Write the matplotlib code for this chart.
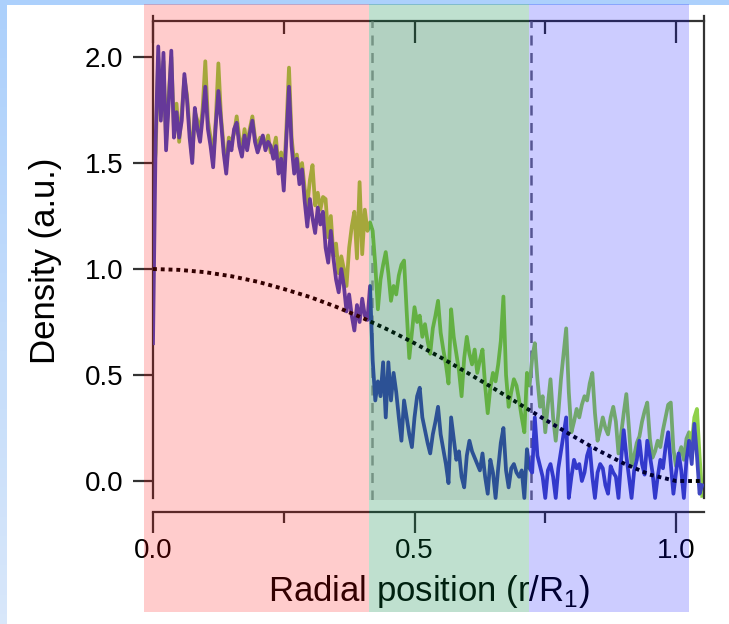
import numpy as np
import matplotlib.pyplot as plt
from matplotlib.patches import Rectangle
from matplotlib.ticker import MultipleLocator, FormatStrFormatter

plt.rcParams['font.family'] = ['Liberation Sans', 'DejaVu Sans']
plt.rcParams['mathtext.fontset'] = 'custom'
plt.rcParams['mathtext.rm'] = 'Liberation Sans'

# radial grid shared by both density profiles (r/R1)
radius = np.round(np.arange(211) * 0.005, 3)

density_blue = [
    0.65, 1.60, 2.05, 1.70, 2.02, 1.56, 1.78, 2.03, 1.62, 1.74,
    1.62, 1.70, 1.92, 1.80, 1.62, 1.50, 1.76, 1.66, 1.60, 1.72,
    1.86, 1.66, 1.58, 1.48, 1.68, 1.84, 1.70, 1.55, 1.45, 1.60,
    1.56, 1.66, 1.69, 1.58, 1.53, 1.63, 1.56, 1.64, 1.70, 1.60,
    1.55, 1.59, 1.63, 1.56, 1.60, 1.58, 1.52, 1.58, 1.45, 1.52,
    1.37, 1.62, 1.86, 1.58, 1.45, 1.52, 1.40, 1.47, 1.32, 1.20,
    1.33, 1.24, 1.17, 1.29, 1.21, 1.27, 1.10, 1.03, 1.18, 1.05,
    0.95, 0.89, 1.00, 0.92, 0.80, 0.88, 0.78, 0.71, 0.83, 0.75,
    0.86, 0.78, 0.76, 0.92, 0.57, 0.38, 0.47, 0.40, 0.56, 0.30,
    0.56, 0.38, 0.51, 0.42, 0.30, 0.19, 0.38, 0.30, 0.22, 0.16,
    0.30, 0.40, 0.44, 0.30, 0.24, 0.18, 0.13, 0.22, 0.28, 0.35,
    0.22, 0.15, 0.08, -0.01, 0.30, 0.20, 0.10, 0.14, 0.02, -0.03,
    0.12, 0.19, 0.14, 0.11, 0.08, 0.05, 0.13, 0.02, -0.06, 0.10,
    0.04, -0.08, 0.06, 0.18, 0.25, 0.05, -0.03, 0.06, 0.08, 0.04,
    0.02, 0.05, -0.08, 0.15, 0.06, 0.04, 0.30, 0.12, 0.07, 0.02,
    -0.08, 0.05, 0.08, 0.02, -0.08, 0.06, 0.14, 0.22, 0.30, -0.08,
    0.02, 0.10, 0.06, 0.08, 0.00, 0.04, 0.12, 0.16, 0.02, -0.08,
    0.04, 0.08, 0.06, -0.02, -0.06, 0.07, 0.04, 0.02, -0.08, 0.10,
    0.24, 0.12, 0.02, -0.08, 0.05, 0.10, 0.19, 0.08, 0.03, 0.19,
    0.12, 0.04, -0.08, 0.02, 0.10, 0.06, 0.16, 0.23, 0.08, -0.06,
    0.04, 0.13, 0.05, -0.08, 0.10, 0.19, 0.08, 0.27, 0.12, -0.06,
    -0.02,
]

density_green = [
    1.40, 1.55, 2.00, 1.72, 1.98, 1.60, 1.82, 2.00, 1.66, 1.78,
    1.60, 1.74, 1.90, 1.82, 1.66, 1.52, 1.74, 1.70, 1.64, 1.76,
    1.98, 1.70, 1.62, 1.52, 1.70, 1.97, 1.72, 1.58, 1.48, 1.62,
    1.60, 1.64, 1.72, 1.62, 1.56, 1.66, 1.58, 1.66, 1.72, 1.62,
    1.58, 1.62, 1.60, 1.58, 1.63, 1.55, 1.56, 1.62, 1.48, 1.55,
    1.42, 1.66, 1.95, 1.62, 1.50, 1.54, 1.45, 1.50, 1.38, 1.30,
    1.42, 1.49, 1.30, 1.36, 1.28, 1.34, 1.33, 1.15, 1.25, 1.06,
    1.12, 0.98, 1.06, 1.00, 0.92, 1.10, 1.20, 1.27, 1.05, 1.41,
    1.07, 1.28, 1.18, 1.22, 1.18, 1.02, 0.81, 0.95, 1.02, 1.08,
    0.98, 0.85, 0.92, 0.88, 0.97, 1.02, 1.04, 0.80, 0.58, 0.70,
    0.82, 0.75, 0.78, 0.68, 0.74, 0.66, 0.60, 0.72, 0.78, 0.85,
    0.70, 0.62, 0.55, 0.46, 0.81, 0.68, 0.60, 0.52, 0.40, 0.58,
    0.68, 0.60, 0.55, 0.62, 0.51, 0.57, 0.62, 0.45, 0.32, 0.44,
    0.51, 0.47, 0.55, 0.66, 0.87, 0.50, 0.35, 0.42, 0.48, 0.45,
    0.38, 0.30, 0.23, 0.51, 0.45, 0.58, 0.65, 0.48, 0.35, 0.40,
    0.23, 0.36, 0.48, 0.30, 0.19, 0.32, 0.48, 0.60, 0.72, 0.42,
    0.23, 0.28, 0.34, 0.30, 0.36, 0.40, 0.38, 0.46, 0.51, 0.32,
    0.19, 0.24, 0.30, 0.25, 0.22, 0.30, 0.35, 0.28, 0.13, 0.22,
    0.32, 0.41, 0.25, 0.07, 0.12, 0.18, 0.21, 0.28, 0.33, 0.37,
    0.20, 0.11, 0.14, 0.19, 0.16, 0.24, 0.30, 0.36, 0.37, 0.15,
    0.07, 0.12, 0.16, 0.10, 0.20, 0.23, 0.18, 0.30, 0.34, 0.12,
    -0.07,
]

# reference profile, sampled every 0.05
profile_r = [0.0, 0.05, 0.1, 0.15, 0.2, 0.25, 0.3, 0.35, 0.4, 0.45, 0.5,
             0.55, 0.6, 0.65, 0.7, 0.75, 0.8, 0.85, 0.9, 0.95, 1.0, 1.05]
profile_n = [1.0, 0.996, 0.985, 0.966, 0.940, 0.906, 0.868, 0.822, 0.770,
             0.713, 0.650, 0.583, 0.512, 0.439, 0.364, 0.289, 0.216, 0.146,
             0.083, 0.030, 0.0, 0.0]

boundaries = [0.419, 0.723]
xticks = [0.0, 0.5, 1.0]
yticks = [0.0, 0.5, 1.0, 1.5, 2.0]

W, H = 729, 624
fig = plt.figure(figsize=(W / 100, H / 100), dpi=100)


def fig_rect(x0, y0, x1, y1, **kw):
    # pixel box (top-left origin) -> figure rectangle
    r = Rectangle((x0 / W, 1 - y1 / H), (x1 - x0) / W, (y1 - y0) / H,
                  transform=fig.transFigure, linewidth=0, **kw)
    fig.add_artist(r)
    return r


# light blue frame on the left and top
bg = fig.add_axes([0, 0, 1, 1], zorder=-3)
bg.axis('off')
top_c = np.array([172, 208, 252]) / 255
bot_c = np.array([216, 231, 250]) / 255
t = np.linspace(0, 1, 64)[:, None, None]
bg.imshow(top_c * (1 - t) + bot_c * t, aspect='auto', extent=[0, 1, 0, 1])
fig_rect(7, 5, W, H, facecolor='white', zorder=-2)

ax = fig.add_axes([153 / W, 1 - 500 / H, (704 - 153) / W, (500 - 21) / H])
ax.set_facecolor('none')
ax.set_xlim(0, 1.0535)
ax.set_ylim(-0.0896, 2.170)

ax.plot(radius, density_green, color='#8fd14a', lw=2.7, zorder=2)
ax.plot(radius, density_blue, color='#4048c0', lw=2.7, zorder=3)
ax.plot(profile_r, profile_n, color='black', lw=2.8,
        linestyle=(0, (1, 1.0)), zorder=4)

ax.axvline(boundaries[0], color='#a8a8a8', lw=1.8, dashes=(4, 3), zorder=1)
ax.axvline(boundaries[1], color='#6c6c78', lw=1.8, dashes=(4, 3), zorder=1)

line_c = '#333333'
ax.spines['top'].set_visible(False)
for side in ['left', 'right']:
    ax.spines[side].set_bounds(-0.08, 2.193)
    ax.spines[side].set_color(line_c)
    ax.spines[side].set_linewidth(1.6)
ax.spines['bottom'].set_position(('outward', 8.6))
ax.spines['bottom'].set_color(line_c)
ax.spines['bottom'].set_linewidth(1.6)

ax.set_xticks(xticks)
ax.xaxis.set_minor_locator(MultipleLocator(0.25))
ax.set_yticks(yticks)
ax.xaxis.set_major_formatter(FormatStrFormatter('%.1f'))
ax.yaxis.set_major_formatter(FormatStrFormatter('%.1f'))
ax.tick_params(axis='x', which='major', direction='out', length=15, width=1.6,
               color=line_c, labelsize=20, pad=4)
ax.tick_params(axis='x', which='minor', direction='out', length=8, width=1.6,
               color=line_c)
ax.tick_params(axis='y', which='major', direction='out', length=14.4, width=1.6,
               color=line_c, labelsize=20, pad=7)

top = ax.secondary_xaxis('top')
top.set_xticks(xticks)
top.xaxis.set_minor_locator(MultipleLocator(0.25))
top.tick_params(which='major', direction='in', length=16, width=1.6,
                color=line_c, labeltop=False)
top.tick_params(which='minor', direction='in', length=9, width=1.6,
                color=line_c)
top.spines['top'].set_color(line_c)
top.spines['top'].set_linewidth(1.6)

ax.set_xlabel('Radial position (r/R$_\\mathregular{1}$)', fontsize=25, labelpad=6)
ax.set_ylabel('Density (a.u.)', fontsize=25, labelpad=16)

# shaded zones over the whole figure column
fig_rect(144, 4, 369, 612, facecolor='#ff0000', alpha=0.2, zorder=5)
fig_rect(369, 4, 529, 612, facecolor='#038443', alpha=0.25, zorder=5)
fig_rect(529, 4, 689, 612, facecolor='#0000ff', alpha=0.2, zorder=5)
fig_rect(369, 21, 529, 500, facecolor='black', alpha=0.065, zorder=5)

fig.savefig('out.png', dpi=100)
